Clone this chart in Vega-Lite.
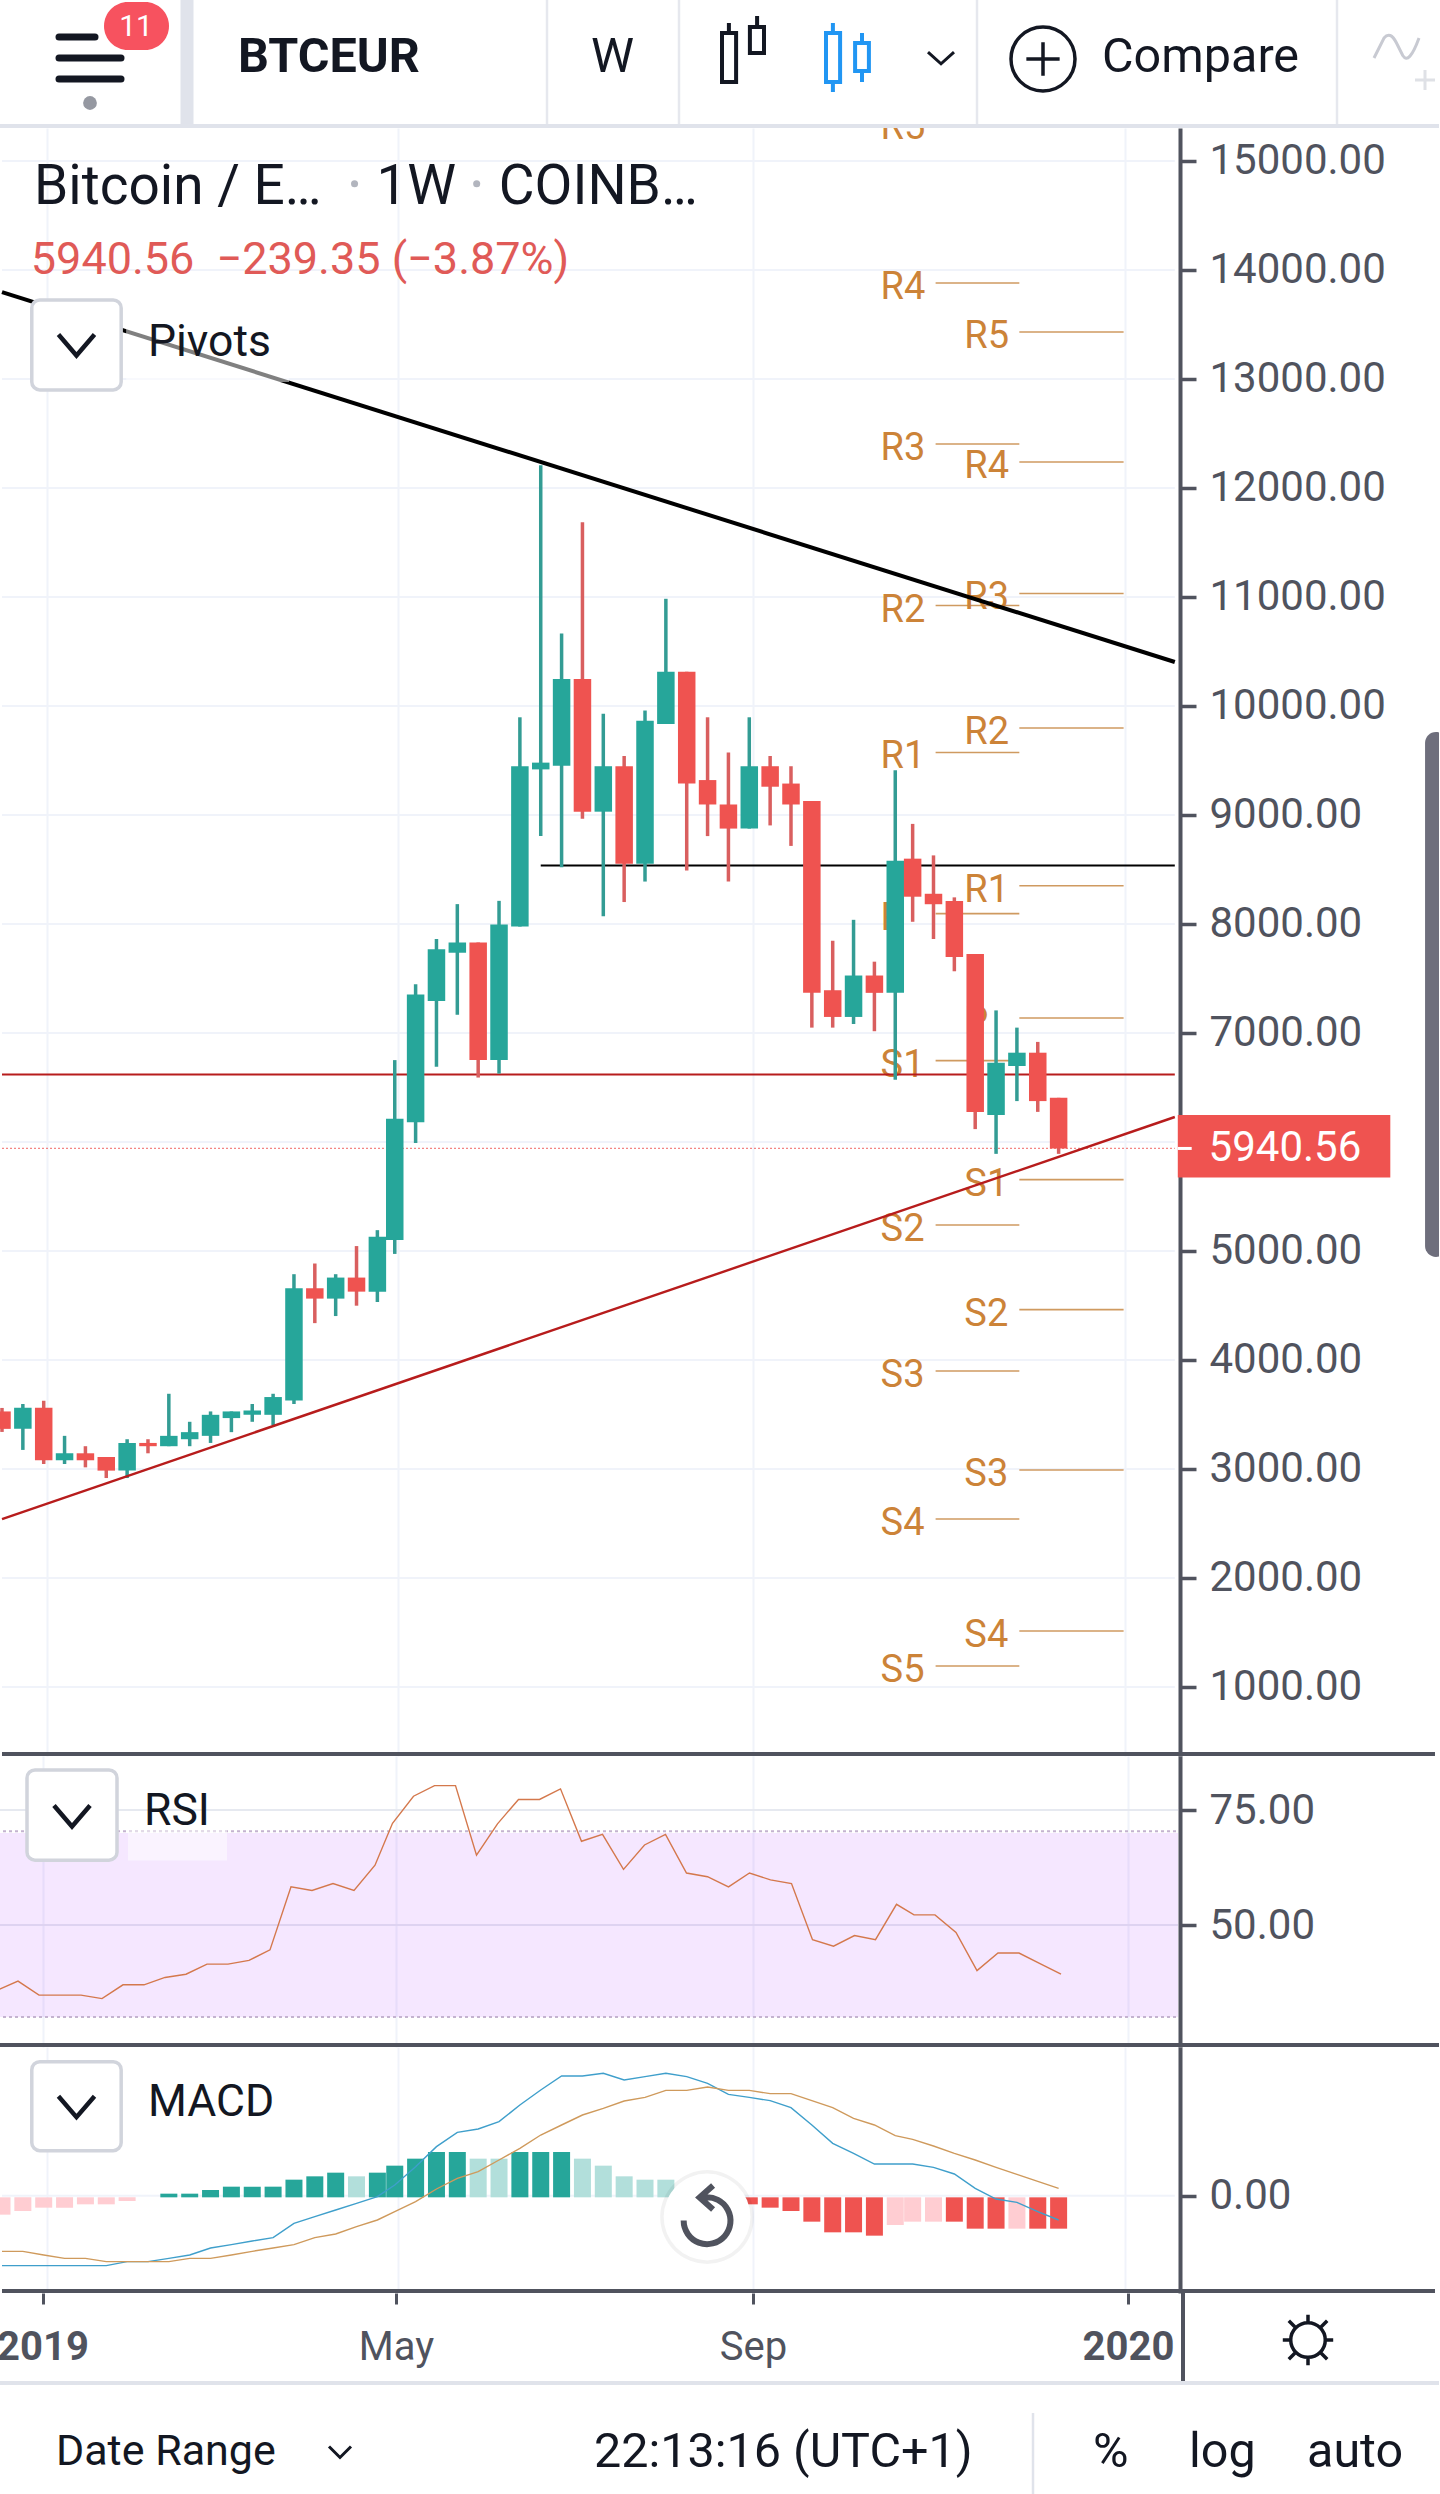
{"$schema":"https://vega.github.io/schema/vega-lite/v6.json","padding":{"left":-4,"top":0,"right":0,"bottom":0},"background":"white","spacing":0,"bounds":"flush","config":{"view":{"stroke":null},"text":{"font":"Roboto"},"concat":{"spacing":0}},
"datasets":{"bars":[
{"t":"2018-12-24T00:00:00","open":3528,"high":3560,"low":3340,"close":3368,"rsi":35.8,"macd":-840,"signal":-668,"hist":-228,"tone":"down-fade"},
{"t":"2018-12-31T00:00:00","open":3368,"high":3596,"low":3175,"close":3562,"rsi":37.8,"macd":-840,"signal":-668,"hist":-184,"tone":"down-fade"},
{"t":"2019-01-07T00:00:00","open":3562,"high":3626,"low":3046,"close":3080,"rsi":34.75,"macd":-840,"signal":-712,"hist":-144,"tone":"down-fade"},
{"t":"2019-01-14T00:00:00","open":3080,"high":3304,"low":3046,"close":3144,"rsi":34.75,"macd":-840,"signal":-752,"hist":-144,"tone":"down-fade"},
{"t":"2019-01-21T00:00:00","open":3144,"high":3209,"low":3015,"close":3080,"rsi":34.75,"macd":-840,"signal":-752,"hist":-104,"tone":"down-fade"},
{"t":"2019-01-28T00:00:00","open":3110,"high":3110,"low":2917,"close":2985,"rsi":34,"macd":-840,"signal":-792,"hist":-104,"tone":"down-fade"},
{"t":"2019-02-04T00:00:00","open":2985,"high":3273,"low":2917,"close":3239,"rsi":37,"macd":-792,"signal":-792,"hist":-64,"tone":"down-fade"},
{"t":"2019-02-11T00:00:00","open":3239,"high":3273,"low":3144,"close":3209,"rsi":37,"macd":-792,"signal":-792,"hist":null,"tone":"up"},
{"t":"2019-02-18T00:00:00","open":3209,"high":3690,"low":3209,"close":3304,"rsi":38.6,"macd":-752,"signal":-792,"hist":24,"tone":"up"},
{"t":"2019-02-25T00:00:00","open":3273,"high":3433,"low":3209,"close":3338,"rsi":39.3,"macd":-712,"signal":-752,"hist":24,"tone":"up"},
{"t":"2019-03-04T00:00:00","open":3304,"high":3528,"low":3239,"close":3497,"rsi":41.5,"macd":-628,"signal":-752,"hist":68,"tone":"up"},
{"t":"2019-03-11T00:00:00","open":3467,"high":3528,"low":3338,"close":3528,"rsi":41.5,"macd":-588,"signal":-712,"hist":108,"tone":"up"},
{"t":"2019-03-18T00:00:00","open":3497,"high":3596,"low":3433,"close":3537,"rsi":42.3,"macd":-544,"signal":-668,"hist":108,"tone":"up"},
{"t":"2019-03-25T00:00:00","open":3497,"high":3690,"low":3402,"close":3660,"rsi":44.6,"macd":-504,"signal":-628,"hist":108,"tone":"up"},
{"t":"2019-04-01T00:00:00","open":3629,"high":4787,"low":3596,"close":4658,"rsi":58.3,"macd":-332,"signal":-588,"hist":192,"tone":"up"},
{"t":"2019-04-08T00:00:00","open":4658,"high":4885,"low":4338,"close":4563,"rsi":57.5,"macd":-252,"signal":-504,"hist":232,"tone":"up"},
{"t":"2019-04-15T00:00:00","open":4563,"high":4787,"low":4403,"close":4756,"rsi":59,"macd":-172,"signal":-460,"hist":276,"tone":"up"},
{"t":"2019-04-22T00:00:00","open":4756,"high":5045,"low":4498,"close":4627,"rsi":57.5,"macd":-92,"signal":-372,"hist":232,"tone":"up-fade"},
{"t":"2019-04-29T00:00:00","open":4627,"high":5191,"low":4532,"close":5130,"rsi":63,"macd":-12,"signal":-292,"hist":276,"tone":"up"},
{"t":"2019-05-04T20:00:00","open":5100,"high":6751,"low":4973,"close":6212,"rsi":72.1,"macd":128,"signal":-192,"hist":360,"tone":"up"},
{"t":"2019-05-11T20:00:00","open":6182,"high":7448,"low":5991,"close":7354,"rsi":78,"macd":348,"signal":-72,"hist":444,"tone":"up"},
{"t":"2019-05-18T20:00:00","open":7294,"high":7863,"low":6691,"close":7769,"rsi":80.3,"macd":588,"signal":80,"hist":524,"tone":"up"},
{"t":"2019-05-25T20:00:00","open":7736,"high":8182,"low":7167,"close":7830,"rsi":80.3,"macd":760,"signal":208,"hist":524,"tone":"up"},
{"t":"2019-06-01T20:00:00","open":7830,"high":7830,"low":6591,"close":6751,"rsi":65.2,"macd":800,"signal":288,"hist":444,"tone":"up-fade"},
{"t":"2019-06-08T20:00:00","open":6751,"high":8212,"low":6627,"close":7994,"rsi":72,"macd":888,"signal":428,"hist":444,"tone":"up-fade"},
{"t":"2019-06-15T20:00:00","open":7976,"high":9896,"low":7976,"close":9447,"rsi":77.3,"macd":1088,"signal":568,"hist":524,"tone":"up"},
{"t":"2019-06-22T20:00:00","open":9418,"high":12208,"low":8806,"close":9480,"rsi":77.3,"macd":1268,"signal":728,"hist":524,"tone":"up"},
{"t":"2019-06-29T20:00:00","open":9451,"high":10664,"low":8520,"close":10248,"rsi":79.6,"macd":1436,"signal":848,"hist":524,"tone":"up"},
{"t":"2019-07-06T20:00:00","open":10248,"high":11685,"low":8965,"close":9030,"rsi":68.2,"macd":1436,"signal":968,"hist":444,"tone":"up-fade"},
{"t":"2019-07-13T20:00:00","open":9030,"high":9929,"low":8070,"close":9447,"rsi":69.7,"macd":1468,"signal":1048,"hist":360,"tone":"up-fade"},
{"t":"2019-07-20T20:00:00","open":9447,"high":9541,"low":8201,"close":8552,"rsi":62.1,"macd":1388,"signal":1136,"hist":232,"tone":"up-fade"},
{"t":"2019-07-27T20:00:00","open":8552,"high":9958,"low":8389,"close":9864,"rsi":67.4,"macd":1428,"signal":1180,"hist":192,"tone":"up-fade"},
{"t":"2019-08-03T20:00:00","open":9835,"high":10983,"low":9835,"close":10313,"rsi":69.7,"macd":1468,"signal":1264,"hist":192,"tone":"up-fade"},
{"t":"2019-08-10T20:00:00","open":10313,"high":10313,"low":8491,"close":9288,"rsi":61.3,"macd":1428,"signal":1264,"hist":108,"tone":"up-fade"},
{"t":"2019-08-17T20:00:00","open":9320,"high":9896,"low":8806,"close":9096,"rsi":60.5,"macd":1348,"signal":1304,"hist":68,"tone":"up-fade"},
{"t":"2019-08-24T20:00:00","open":9096,"high":9574,"low":8389,"close":8875,"rsi":58.3,"macd":1216,"signal":1264,"hist":-64,"tone":"down-fade"},
{"t":"2019-08-31T20:00:00","open":8875,"high":9896,"low":8875,"close":9447,"rsi":61.3,"macd":1180,"signal":1264,"hist":-104,"tone":"down"},
{"t":"2019-09-07T20:00:00","open":9447,"high":9541,"low":8904,"close":9259,"rsi":59.8,"macd":1140,"signal":1224,"hist":-144,"tone":"down"},
{"t":"2019-09-14T20:00:00","open":9288,"high":9447,"low":8716,"close":9096,"rsi":59,"macd":1056,"signal":1224,"hist":-184,"tone":"down"},
{"t":"2019-09-21T20:00:00","open":9128,"high":9128,"low":7049,"close":7368,"rsi":46.8,"macd":848,"signal":1140,"hist":-312,"tone":"down"},
{"t":"2019-09-28T20:00:00","open":7392,"high":7846,"low":7049,"close":7147,"rsi":45.4,"macd":628,"signal":1056,"hist":-440,"tone":"down"},
{"t":"2019-10-05T20:00:00","open":7147,"high":8038,"low":7082,"close":7527,"rsi":47.7,"macd":508,"signal":928,"hist":-440,"tone":"down"},
{"t":"2019-10-12T20:00:00","open":7527,"high":7654,"low":7016,"close":7368,"rsi":46.8,"macd":380,"signal":848,"hist":-480,"tone":"down"},
{"t":"2019-10-19T20:00:00","open":7368,"high":9410,"low":6571,"close":8581,"rsi":54.5,"macd":380,"signal":720,"hist":-352,"tone":"down-fade"},
{"t":"2019-10-25T16:00:00","open":8599,"high":8918,"low":8020,"close":8250,"rsi":52.2,"macd":380,"signal":676,"hist":-312,"tone":"down-fade"},
{"t":"2019-11-01T16:00:00","open":8277,"high":8629,"low":7862,"close":8181,"rsi":52.2,"macd":340,"signal":596,"hist":-312,"tone":"down-fade"},
{"t":"2019-11-08T16:00:00","open":8211,"high":8244,"low":7566,"close":7698,"rsi":48.4,"macd":260,"signal":508,"hist":-312,"tone":"down"},
{"t":"2019-11-15T16:00:00","open":7724,"high":7724,"low":6118,"close":6276,"rsi":40.1,"macd":88,"signal":428,"hist":-396,"tone":"down"},
{"t":"2019-11-22T16:00:00","open":6247,"high":7207,"low":5891,"close":6727,"rsi":43.9,"macd":-40,"signal":340,"hist":-396,"tone":"down"},
{"t":"2019-11-29T16:00:00","open":6697,"high":7049,"low":6375,"close":6819,"rsi":43.9,"macd":-80,"signal":256,"hist":-396,"tone":"down-fade"},
{"t":"2019-12-06T16:00:00","open":6819,"high":6918,"low":6276,"close":6375,"rsi":41.6,"macd":-192,"signal":172,"hist":-396,"tone":"down"},
{"t":"2019-12-13T16:00:00","open":6405,"high":6405,"low":5891,"close":5940.56,"rsi":39.3,"macd":-292,"signal":88,"hist":-396,"tone":"down"}
]},
"vconcat":[
{"width":1440,"height":128,"encoding":{"x":{"field":"col","type":"quantitative","scale":{"domain":[0,1440],"nice":false,"zero":false},"axis":null},"y":{"field":"row","type":"quantitative","scale":{"domain":[128,0],"nice":false,"zero":false},"axis":null}},
"layer":[
{"data":{"values":[{"col":0,"col2":1440,"row":126}]},"mark":{"type":"rule","color":"#e0e3eb","strokeWidth":4,"clip":true},"encoding":{"x2":{"field":"col2"}}},
{"data":{"values":[{"col":188,"row":0,"row2":124}]},"mark":{"type":"rule","color":"#e0e3eb","strokeWidth":13,"clip":true},"encoding":{"y2":{"field":"row2"}}},
{"data":{"values":[{"col":548,"row":0,"row2":124},{"col":680,"row":0,"row2":124},{"col":978,"row":0,"row2":124},{"col":1338,"row":0,"row2":124}]},"mark":{"type":"rule","color":"#e6e8ee","strokeWidth":2.5,"clip":true},"encoding":{"y2":{"field":"row2"}}},
{"data":{"values":[{"col":60,"col2":96,"row":37},{"col":60,"col2":122,"row":58},{"col":60,"col2":122,"row":79}]},"mark":{"type":"rule","color":"#131722","strokeWidth":7,"strokeCap":"round"},"encoding":{"x2":{"field":"col2"}}},
{"data":{"values":[{"col":91,"row":103}]},"mark":{"type":"point","shape":"circle","filled":true,"color":"#9598a1","size":190,"opacity":1}},
{"data":{"values":[{"col":105,"col2":170,"row":2,"row2":50}]},"mark":{"type":"rect","color":"#f7525f","cornerRadius":24},"encoding":{"x2":{"field":"col2"},"y2":{"field":"row2"}}},
{"data":{"values":[{"col":137,"row":27,"note":"11"}]},"mark":{"type":"text","color":"white","fontSize":30,"font":"Roboto","align":"center"},"encoding":{"text":{"field":"note"}}},
{"data":{"values":[{"col":239,"row":57,"note":"BTCEUR"}]},"mark":{"type":"text","color":"#131722","fontSize":48.5,"fontWeight":"bold","font":"Roboto","align":"left"},"encoding":{"text":{"field":"note"}}},
{"data":{"values":[{"col":592,"row":57,"note":"W"},{"col":1103,"row":57,"note":"Compare"}]},"mark":{"type":"text","color":"#131722","fontSize":48.5,"font":"Roboto","align":"left"},"encoding":{"text":{"field":"note"}}},
{"data":{"values":[{"col":744,"row":50}]},"mark":{"type":"point","shape":"M-0.7,-0.57H-0.23V1.07H-0.7ZM-0.47,-0.9V-0.57M0.23,-0.77H0.7V0.1H0.23ZM0.47,-1.13V-0.77","filled":false,"stroke":"#131722","strokeWidth":4,"size":3600,"opacity":1}},
{"data":{"values":[{"col":848,"row":55}]},"mark":{"type":"point","shape":"M-0.7,-0.73H-0.23V0.9H-0.7ZM-0.47,-1.07V-0.73M-0.47,0.9V1.23M0.27,-0.4H0.73V0.53H0.27ZM0.5,-0.73V-0.4M0.5,0.53V0.9","filled":false,"stroke":"#2196f3","strokeWidth":4,"size":3600,"opacity":1}},
{"data":{"values":[{"col":942,"row":58}]},"mark":{"type":"point","shape":"M-1,-0.45L0,0.45L1,-0.45","filled":false,"stroke":"#131722","strokeWidth":3,"size":676,"opacity":1}},
{"data":{"values":[{"col":1044,"row":59}]},"mark":{"type":"point","shape":"M-1,0A1,1 0 1,0 1,0A1,1 0 1,0 -1,0M-0.52,0H0.52M0,-0.52V0.52","filled":false,"stroke":"#131722","strokeWidth":3.5,"size":4096,"opacity":1}},
{"data":{"values":[{"col":1400,"row":48}]},"mark":{"type":"point","shape":"M-1,0.4L-0.6,-0.4Q-0.35,-0.7 -0.1,-0.2L0.15,0.3Q0.4,0.7 0.8,-0.4","filled":false,"stroke":"#c8cad2","strokeWidth":3,"size":2500,"opacity":1,"clip":true}},
{"data":{"values":[{"col":1426,"row":80}]},"mark":{"type":"point","shape":"M-1,0H1M0,-1V1","filled":false,"stroke":"#dfe1e6","strokeWidth":3,"size":400,"opacity":1,"clip":true}}
]},
{"width":1440,"height":1628,"encoding":{"x":{"field":"t","type":"temporal","scale":{"domain":[{"year":2018,"month":12,"date":24},{"year":2020,"month":4,"date":17,"hours":16}],"range":[-2,1440],"nice":false},"axis":{"orient":"bottom","title":null,"grid":true,"gridColor":"#f0f3fa","gridWidth":2,"labels":false,"ticks":false,"domain":false,"values":[{"year":2019,"month":1,"date":8,"hours":4},{"year":2019,"month":5,"date":6},{"year":2019,"month":9,"date":2},{"year":2020,"month":1,"date":5}]}},"y":{"field":"price","type":"quantitative","scale":{"domain":[367,15302],"nice":false,"zero":false},"axis":{"orient":"right","offset":-259,"title":null,"grid":false,"values":[1000,2000,3000,4000,5000,7000,8000,9000,10000,11000,12000,13000,14000,15000],"format":".2f","domainColor":"#50535e","domainWidth":4,"tickColor":"#50535e","tickWidth":3.5,"tickSize":16,"labelColor":"#50535e","labelFontSize":42,"labelFont":"Roboto","labelPadding":13,"labelOverlap":false,"labelBound":false,"labelFlush":false}}},
"layer":[
{"data":{"values":[{"t":"2018-12-24T00:00:00","t2":"2020-01-21T16:00:00","price":1000},{"t":"2018-12-24T00:00:00","t2":"2020-01-21T16:00:00","price":2000},{"t":"2018-12-24T00:00:00","t2":"2020-01-21T16:00:00","price":3000},{"t":"2018-12-24T00:00:00","t2":"2020-01-21T16:00:00","price":4000},{"t":"2018-12-24T00:00:00","t2":"2020-01-21T16:00:00","price":5000},{"t":"2018-12-24T00:00:00","t2":"2020-01-21T16:00:00","price":6000},{"t":"2018-12-24T00:00:00","t2":"2020-01-21T16:00:00","price":7000},{"t":"2018-12-24T00:00:00","t2":"2020-01-21T16:00:00","price":8000},{"t":"2018-12-24T00:00:00","t2":"2020-01-21T16:00:00","price":9000},{"t":"2018-12-24T00:00:00","t2":"2020-01-21T16:00:00","price":10000},{"t":"2018-12-24T00:00:00","t2":"2020-01-21T16:00:00","price":11000},{"t":"2018-12-24T00:00:00","t2":"2020-01-21T16:00:00","price":12000},{"t":"2018-12-24T00:00:00","t2":"2020-01-21T16:00:00","price":13000},{"t":"2018-12-24T00:00:00","t2":"2020-01-21T16:00:00","price":14000},{"t":"2018-12-24T00:00:00","t2":"2020-01-21T16:00:00","price":15000}],"format":{"parse":{"t":"date","t2":"date"}}},"mark":{"type":"rule","color":"#f0f3fa","strokeWidth":2,"clip":true},"encoding":{"x2":{"field":"t2"}}},
{"data":{"values":[
{"t":"2019-11-02T09:00:00","t2":"2019-11-30T11:30:00","price":15348,"label":"R5"},{"t":"2019-11-02T09:00:00","t2":"2019-11-30T11:30:00","price":13880,"label":"R4"},{"t":"2019-11-02T09:00:00","t2":"2019-11-30T11:30:00","price":12403,"label":"R3"},{"t":"2019-11-02T09:00:00","t2":"2019-11-30T11:30:00","price":10921,"label":"R2"},{"t":"2019-11-02T09:00:00","t2":"2019-11-30T11:30:00","price":9573,"label":"R1"},{"t":"2019-11-02T09:00:00","t2":"2019-11-30T11:30:00","price":8095,"label":"P"},{"t":"2019-11-02T09:00:00","t2":"2019-11-30T11:30:00","price":6746,"label":"S1"},{"t":"2019-11-02T09:00:00","t2":"2019-11-30T11:30:00","price":5238,"label":"S2"},{"t":"2019-11-02T09:00:00","t2":"2019-11-30T11:30:00","price":3899,"label":"S3"},{"t":"2019-11-02T09:00:00","t2":"2019-11-30T11:30:00","price":2541,"label":"S4"},{"t":"2019-11-02T09:00:00","t2":"2019-11-30T11:30:00","price":1193,"label":"S5"},
{"t":"2019-11-30T11:30:00","t2":"2020-01-04T11:30:00","price":13431,"label":"R5"},{"t":"2019-11-30T11:30:00","t2":"2020-01-04T11:30:00","price":12238,"label":"R4"},{"t":"2019-11-30T11:30:00","t2":"2020-01-04T11:30:00","price":11032,"label":"R3"},{"t":"2019-11-30T11:30:00","t2":"2020-01-04T11:30:00","price":9798,"label":"R2"},{"t":"2019-11-30T11:30:00","t2":"2020-01-04T11:30:00","price":8351,"label":"R1"},{"t":"2019-11-30T11:30:00","t2":"2020-01-04T11:30:00","price":7137,"label":"P"},{"t":"2019-11-30T11:30:00","t2":"2020-01-04T11:30:00","price":5655,"label":"S1"},{"t":"2019-11-30T11:30:00","t2":"2020-01-04T11:30:00","price":4462,"label":"S2"},{"t":"2019-11-30T11:30:00","t2":"2020-01-04T11:30:00","price":2991,"label":"S3"},{"t":"2019-11-30T11:30:00","t2":"2020-01-04T11:30:00","price":1514,"label":"S4"}],"format":{"parse":{"t":"date","t2":"date"}}},
"layer":[{"mark":{"type":"rule","color":"#cf9a60","strokeWidth":1.6,"clip":true},"encoding":{"x2":{"field":"t2"}}},{"mark":{"type":"text","color":"#cc8338","fontSize":38,"font":"Roboto","align":"left","dx":-55,"dy":5,"clip":true},"encoding":{"text":{"field":"label"}}}]},
{"data":{"values":[{"t":"2019-06-22T20:00:00","t2":"2020-01-21T16:00:00","price":8537}],"format":{"parse":{"t":"date","t2":"date"}}},"mark":{"type":"rule","color":"#000000","strokeWidth":2,"clip":true},"encoding":{"x2":{"field":"t2"}}},
{"data":{"values":[{"t":"2018-12-24T00:00:00","t2":"2020-01-21T16:00:00","price":6620}],"format":{"parse":{"t":"date","t2":"date"}}},"mark":{"type":"rule","color":"#b71c1c","strokeWidth":2,"clip":true},"encoding":{"x2":{"field":"t2"}}},
{"data":{"values":[{"t":"2018-12-24T00:00:00","t2":"2020-01-21T16:00:00","price":5940.56}],"format":{"parse":{"t":"date","t2":"date"}}},"mark":{"type":"rule","color":"#ef5350","strokeWidth":1.3,"strokeDash":[2,2],"opacity":0.7,"clip":true},"encoding":{"x2":{"field":"t2"}}},
{"data":{"name":"bars"},"mark":{"type":"rule","strokeWidth":3.5,"clip":true},"encoding":{"y":{"field":"high","type":"quantitative","scale":{"domain":[367,15302],"nice":false,"zero":false},"axis":{"orient":"right","offset":-259,"title":null,"grid":false,"values":[1000,2000,3000,4000,5000,7000,8000,9000,10000,11000,12000,13000,14000,15000],"format":".2f","domainColor":"#50535e","domainWidth":4,"tickColor":"#50535e","tickWidth":3.5,"tickSize":16,"labelColor":"#50535e","labelFontSize":42,"labelFont":"Roboto","labelPadding":13,"labelOverlap":false,"labelBound":false,"labelFlush":false}},"y2":{"field":"low"},"color":{"condition":{"test":"datum.close>=datum.open","value":"#339c94"},"value":"#d95f5f"}}},
{"data":{"name":"bars"},"mark":{"type":"bar","size":17.5,"clip":true},"encoding":{"y":{"field":"open","type":"quantitative","scale":{"domain":[367,15302],"nice":false,"zero":false},"axis":{"orient":"right","offset":-259,"title":null,"grid":false,"values":[1000,2000,3000,4000,5000,7000,8000,9000,10000,11000,12000,13000,14000,15000],"format":".2f","domainColor":"#50535e","domainWidth":4,"tickColor":"#50535e","tickWidth":3.5,"tickSize":16,"labelColor":"#50535e","labelFontSize":42,"labelFont":"Roboto","labelPadding":13,"labelOverlap":false,"labelBound":false,"labelFlush":false}},"y2":{"field":"close"},"color":{"condition":{"test":"datum.close>=datum.open","value":"#26a69a"},"value":"#ef5350"}}},
{"data":{"values":[{"t":"2018-12-24T00:00:00","t2":"2020-01-21T16:00:00","price":13797,"price2":10403}],"format":{"parse":{"t":"date","t2":"date"}}},"mark":{"type":"rule","color":"#000000","strokeWidth":4,"clip":true},"encoding":{"x2":{"field":"t2"},"y2":{"field":"price2"}}},
{"data":{"values":[{"t":"2018-12-24T00:00:00","t2":"2020-01-21T16:00:00","price":2541,"price2":6229}],"format":{"parse":{"t":"date","t2":"date"}}},"mark":{"type":"rule","color":"#b71c1c","strokeWidth":2.4,"clip":true},"encoding":{"x2":{"field":"t2"},"y2":{"field":"price2"}}},
{"data":{"values":[{"t":"2019-02-03T16:00:00","t2":"2019-03-30T08:00:00","price":13724,"price2":12972}],"format":{"parse":{"t":"date","t2":"date"}}},"mark":{"type":"rect","color":"white","opacity":0.5,"clip":true},"encoding":{"x2":{"field":"t2"},"y2":{"field":"price2"}}},
{"data":{"values":[{"t":"2019-01-03T00:00:00","t2":"2019-02-02T00:00:00","price":13724,"price2":12899}],"format":{"parse":{"t":"date","t2":"date"}}},"mark":{"type":"rect","fill":"white","stroke":"#d1d4dc","strokeWidth":3.5,"cornerRadius":8,"clip":true},"encoding":{"x2":{"field":"t2"},"y2":{"field":"price2"}}},
{"data":{"values":[{"t":"2019-01-18T00:00:00","price":13311}]},"mark":{"type":"point","shape":"M-1,-0.58L0,0.58L1,-0.58","filled":false,"stroke":"#131722","strokeWidth":4.5,"size":1300,"opacity":1,"clip":true}},
{"data":{"values":[{"t":"2019-01-03T18:00:00","price":14761,"note":"Bitcoin / E…"},{"t":"2019-04-28T16:00:00","price":14761,"note":"1W"},{"t":"2019-06-08T18:00:00","price":14761,"note":"COINB…"}]},"mark":{"type":"text","color":"#131722","fontSize":55,"font":"Roboto","align":"left","clip":true},"encoding":{"text":{"field":"note"}}},
{"data":{"values":[{"t":"2019-04-21T08:00:00","price":14790},{"t":"2019-06-01T08:00:00","price":14790}]},"mark":{"type":"point","shape":"circle","filled":true,"color":"#b2b5be","size":50,"opacity":1,"clip":true}},
{"data":{"values":[{"t":"2019-01-02T16:00:00","price":14091,"note":"5940.56"},{"t":"2019-03-06T00:00:00","price":14091,"note":"−239.35 (−3.87%)"}]},"mark":{"type":"text","color":"#e05a57","fontSize":45,"font":"Roboto","align":"left","clip":true},"encoding":{"text":{"field":"note"}}},
{"data":{"values":[{"t":"2019-02-11T00:00:00","price":13330,"note":"Pivots"}]},"mark":{"type":"text","color":"#131722","fontSize":44.5,"font":"Roboto","align":"left","clip":true},"encoding":{"text":{"field":"note"}}},
{"data":{"values":[{"t":"2020-01-22T16:00:00","t2":"2020-04-03T00:00:00","price":6247,"price2":5674}],"format":{"parse":{"t":"date","t2":"date"}}},"mark":{"type":"rect","color":"#ef5350","clip":true},"encoding":{"x2":{"field":"t2"},"y2":{"field":"price2"}}},
{"data":{"values":[{"t":"2020-01-22T16:00:00","t2":"2020-01-27T08:00:00","price":5940.56}],"format":{"parse":{"t":"date","t2":"date"}}},"mark":{"type":"rule","color":"#ffffff","strokeWidth":3,"clip":true},"encoding":{"x2":{"field":"t2"}}},
{"data":{"values":[{"t":"2020-02-02T00:00:00","price":5940.56,"note":"5940.56"}]},"mark":{"type":"text","color":"#ffffff","fontSize":42,"font":"Roboto","align":"left","clip":true},"encoding":{"text":{"field":"note"}}},
{"data":{"values":[{"t":"2020-04-14T16:00:00","t2":"2020-04-22T00:00:00","price":9761,"price2":4945}],"format":{"parse":{"t":"date","t2":"date"}}},"mark":{"type":"rect","color":"#6e6e7c","cornerRadius":12,"clip":true},"encoding":{"x2":{"field":"t2"},"y2":{"field":"price2"}}},
{"data":{"values":[{"t":"2018-12-24T00:00:00","t2":"2020-04-18T00:00:00","price":385}],"format":{"parse":{"t":"date","t2":"date"}}},"mark":{"type":"rule","color":"#50535e","strokeWidth":4,"clip":true},"encoding":{"x2":{"field":"t2"}}}
]},
{"width":1440,"height":291,"encoding":{"x":{"field":"t","type":"temporal","scale":{"domain":[{"year":2018,"month":12,"date":24},{"year":2020,"month":4,"date":17,"hours":16}],"range":[-2,1440],"nice":false},"axis":{"orient":"bottom","title":null,"grid":true,"gridColor":"#f0f3fa","gridWidth":2,"labels":false,"ticks":false,"domain":false,"values":[{"year":2019,"month":1,"date":8,"hours":4},{"year":2019,"month":5,"date":6},{"year":2019,"month":9,"date":2},{"year":2020,"month":1,"date":5}]}},"y":{"field":"rsi","type":"quantitative","scale":{"domain":[23.48,86.74],"nice":false,"zero":false},"axis":{"orient":"right","offset":-259,"title":null,"grid":false,"values":[50,75],"format":".2f","domainColor":"#50535e","domainWidth":4,"tickColor":"#50535e","tickWidth":3.5,"tickSize":16,"labelColor":"#50535e","labelFontSize":42,"labelFont":"Roboto","labelPadding":13,"labelOverlap":false,"labelBound":false,"labelFlush":false}}},
"layer":[
{"data":{"values":[{"t":"2018-12-24T00:00:00","t2":"2020-01-21T16:00:00","rsi":75},{"t":"2018-12-24T00:00:00","t2":"2020-01-21T16:00:00","rsi":50}],"format":{"parse":{"t":"date","t2":"date"}}},"mark":{"type":"rule","color":"#e6e9f0","strokeWidth":2,"clip":true},"encoding":{"x2":{"field":"t2"}}},
{"data":{"values":[{"t":"2018-12-24T00:00:00","t2":"2020-01-21T16:00:00","rsi":70,"rsi2":30}],"format":{"parse":{"t":"date","t2":"date"}}},"mark":{"type":"rect","color":"#9915ff","opacity":0.1,"clip":true},"encoding":{"x2":{"field":"t2"},"y2":{"field":"rsi2"}}},
{"data":{"values":[{"t":"2018-12-24T00:00:00","t2":"2020-01-21T16:00:00","rsi":70.4},{"t":"2018-12-24T00:00:00","t2":"2020-01-21T16:00:00","rsi":30}],"format":{"parse":{"t":"date","t2":"date"}}},"mark":{"type":"rule","color":"#c4b3d0","strokeWidth":2,"strokeDash":[3,3],"clip":true},"encoding":{"x2":{"field":"t2"}}},
{"data":{"values":[{"t":"2019-02-05T16:00:00","t2":"2019-03-10T16:00:00","rsi":70.6,"rsi2":64}],"format":{"parse":{"t":"date","t2":"date"}}},"mark":{"type":"rect","color":"white","opacity":0.5,"clip":true},"encoding":{"x2":{"field":"t2"},"y2":{"field":"rsi2"}}},
{"data":{"name":"bars"},"mark":{"type":"line","color":"#d4784c","strokeWidth":1.4,"clip":true}},
{"data":{"values":[{"t":"2019-01-03T00:00:00","t2":"2019-02-02T00:00:00","rsi":83.7,"rsi2":64.1}],"format":{"parse":{"t":"date","t2":"date"}}},"mark":{"type":"rect","fill":"white","stroke":"#d1d4dc","strokeWidth":3.5,"cornerRadius":8,"clip":true},"encoding":{"x2":{"field":"t2"},"y2":{"field":"rsi2"}}},
{"data":{"values":[{"t":"2019-01-18T00:00:00","rsi":73.7}]},"mark":{"type":"point","shape":"M-1,-0.58L0,0.58L1,-0.58","filled":false,"stroke":"#131722","strokeWidth":4.5,"size":1300,"opacity":1,"clip":true}},
{"data":{"values":[{"t":"2019-02-11T00:00:00","rsi":74.6,"note":"RSI"}]},"mark":{"type":"text","color":"#131722","fontSize":44.5,"font":"Roboto","align":"left","clip":true},"encoding":{"text":{"field":"note"}}},
{"data":{"values":[{"t":"2018-12-24T00:00:00","t2":"2020-04-18T00:00:00","rsi":23.91}],"format":{"parse":{"t":"date","t2":"date"}}},"mark":{"type":"rule","color":"#50535e","strokeWidth":4,"clip":true},"encoding":{"x2":{"field":"t2"}}}
]},
{"width":1440,"height":246,"encoding":{"x":{"field":"t","type":"temporal","scale":{"domain":[{"year":2018,"month":12,"date":24},{"year":2020,"month":4,"date":17,"hours":16}],"range":[-2,1440],"nice":false},"axis":{"orient":"bottom","title":null,"grid":true,"gridColor":"#f0f3fa","gridWidth":2,"labels":false,"ticks":false,"domain":false,"values":[{"year":2019,"month":1,"date":8,"hours":4},{"year":2019,"month":5,"date":6},{"year":2019,"month":9,"date":2},{"year":2020,"month":1,"date":5}]}},"y":{"field":"macd","type":"quantitative","scale":{"domain":[-1168,1784],"nice":false,"zero":false},"axis":{"orient":"right","offset":-259,"title":null,"grid":false,"values":[0],"format":".2f","domainColor":"#50535e","domainWidth":4,"tickColor":"#50535e","tickWidth":3.5,"tickSize":16,"labelColor":"#50535e","labelFontSize":42,"labelFont":"Roboto","labelPadding":13,"labelOverlap":false,"labelBound":false,"labelFlush":false}}},
"layer":[
{"data":{"values":[{"t":"2018-12-24T00:00:00","t2":"2020-01-21T16:00:00","macd":0}],"format":{"parse":{"t":"date","t2":"date"}}},"mark":{"type":"rule","color":"#f0f3fa","strokeWidth":2,"clip":true},"encoding":{"x2":{"field":"t2"}}},
{"data":{"name":"bars"},"mark":{"type":"bar","size":17,"clip":true},"encoding":{"y":{"field":"hist","type":"quantitative","scale":{"domain":[-1168,1784],"nice":false,"zero":false},"axis":{"orient":"right","offset":-259,"title":null,"grid":false,"values":[0],"format":".2f","domainColor":"#50535e","domainWidth":4,"tickColor":"#50535e","tickWidth":3.5,"tickSize":16,"labelColor":"#50535e","labelFontSize":42,"labelFont":"Roboto","labelPadding":13,"labelOverlap":false,"labelBound":false,"labelFlush":false}},"y2":{"datum":-20},"color":{"field":"tone","type":"nominal","scale":{"domain":["up","up-fade","down-fade","down"],"range":["#26a69a","#b2dfdb","#ffcdd2","#ef5350"]},"legend":null}}},
{"data":{"name":"bars"},"mark":{"type":"line","color":"#3f9fcb","strokeWidth":1.4,"clip":true}},
{"data":{"name":"bars"},"mark":{"type":"line","color":"#cf9a5c","strokeWidth":1.4,"clip":true},"encoding":{"y":{"field":"signal","type":"quantitative","scale":{"domain":[-1168,1784],"nice":false,"zero":false},"axis":{"orient":"right","offset":-259,"title":null,"grid":false,"values":[0],"format":".2f","domainColor":"#50535e","domainWidth":4,"tickColor":"#50535e","tickWidth":3.5,"tickSize":16,"labelColor":"#50535e","labelFontSize":42,"labelFont":"Roboto","labelPadding":13,"labelOverlap":false,"labelBound":false,"labelFlush":false}}}},
{"data":{"values":[{"t":"2019-01-03T00:00:00","t2":"2019-02-02T00:00:00","macd":1608,"macd2":540}],"format":{"parse":{"t":"date","t2":"date"}}},"mark":{"type":"rect","fill":"white","stroke":"#d1d4dc","strokeWidth":3.5,"cornerRadius":8,"clip":true},"encoding":{"x2":{"field":"t2"},"y2":{"field":"macd2"}}},
{"data":{"values":[{"t":"2019-01-18T00:00:00","macd":1068}]},"mark":{"type":"point","shape":"M-1,-0.58L0,0.58L1,-0.58","filled":false,"stroke":"#131722","strokeWidth":4.5,"size":1300,"opacity":1,"clip":true}},
{"data":{"values":[{"t":"2019-02-11T00:00:00","macd":1108,"note":"MACD"}]},"mark":{"type":"text","color":"#131722","fontSize":44.5,"font":"Roboto","align":"left","clip":true},"encoding":{"text":{"field":"note"}}},
{"data":{"values":[{"t":"2019-08-17T16:00:00","macd":-256}]},"mark":{"type":"point","shape":"circle","filled":true,"color":"#000000","size":8800,"opacity":0.05,"clip":true}},
{"data":{"values":[{"t":"2019-08-17T16:00:00","macd":-256}]},"mark":{"type":"point","shape":"circle","filled":true,"color":"#ffffff","size":7540,"opacity":1,"clip":true}},
{"data":{"values":[{"t":"2019-08-17T16:00:00","macd":-256}]},"mark":{"type":"point","shape":"M-0.1,-0.65A0.78,0.78 0 1,1 -0.78,0.12M0.2,-1.05L-0.25,-0.65L0.2,-0.25","filled":false,"stroke":"#50535e","strokeWidth":6,"size":3600,"opacity":1,"clip":true}},
{"data":{"values":[{"t":"2018-12-24T00:00:00","t2":"2020-04-18T00:00:00","macd":-1144}],"format":{"parse":{"t":"date","t2":"date"}}},"mark":{"type":"rule","color":"#50535e","strokeWidth":4,"clip":true},"encoding":{"x2":{"field":"t2"}}}
]},
{"width":1440,"height":92,"encoding":{"x":{"field":"t","type":"temporal","scale":{"domain":[{"year":2018,"month":12,"date":24},{"year":2020,"month":4,"date":17,"hours":16}],"range":[-2,1440],"nice":false},"axis":{"orient":"bottom","offset":-92,"title":null,"grid":false,"domain":false,"values":[{"year":2019,"month":1,"date":8,"hours":4},{"year":2019,"month":5,"date":6},{"year":2019,"month":9,"date":2},{"year":2020,"month":1,"date":5}],"labelExpr":"month(datum.value)==0?timeFormat(datum.value,'%Y'):timeFormat(datum.value,'%b')","tickColor":"#50535e","tickWidth":3,"tickSize":11,"labelColor":"#50535e","labelFontSize":40,"labelFont":"Roboto","labelPadding":23,"labelOverlap":false,"labelBound":false,"labelFlush":false,"labelFontWeight":{"condition":{"test":"month(datum.value)==0","value":"bold"},"value":"normal"}}},"y":{"field":"row","type":"quantitative","scale":{"domain":[92,0],"nice":false,"zero":false},"axis":null}},
"layer":[
{"data":{"values":[{"t":"2020-01-23T08:00:00","row":0,"row2":90}]},"mark":{"type":"rule","color":"#50535e","strokeWidth":4,"clip":true},"encoding":{"y2":{"field":"row2"}}},
{"data":{"values":[{"t":"2018-12-24T00:00:00","t2":"2020-04-18T00:00:00","row":90}],"format":{"parse":{"t":"date","t2":"date"}}},"mark":{"type":"rule","color":"#e0e3eb","strokeWidth":4,"clip":true},"encoding":{"x2":{"field":"t2"}}},
{"data":{"values":[{"t":"2020-03-05T00:00:00","row":47}]},"mark":{"type":"point","shape":"M-0.72,0A0.72,0.72 0 1,0 0.72,0A0.72,0.72 0 1,0 -0.72,0M0,-1.05V-0.72M0,1.05V0.72M-1.05,0H-0.72M1.05,0H0.72M-0.8,-0.8L-0.5,-0.5M0.8,-0.8L0.5,-0.5M-0.8,0.8L-0.5,0.5M0.8,0.8L0.5,0.5","filled":false,"stroke":"#131722","strokeWidth":3.5,"size":2304,"opacity":1,"clip":true}}
]},
{"width":1440,"height":109,"encoding":{"x":{"field":"col","type":"quantitative","scale":{"domain":[0,1440],"nice":false,"zero":false},"axis":null},"y":{"field":"row","type":"quantitative","scale":{"domain":[109,0],"nice":false,"zero":false},"axis":null}},
"layer":[
{"data":{"values":[{"col":1034,"row":28,"row2":109}]},"mark":{"type":"rule","color":"#e0e3eb","strokeWidth":2.5,"clip":true},"encoding":{"y2":{"field":"row2"}}},
{"data":{"values":[{"col":57,"row":67,"note":"Date Range"}]},"mark":{"type":"text","color":"#131722","fontSize":43,"font":"Roboto","align":"left"},"encoding":{"text":{"field":"note"}}},
{"data":{"values":[{"col":595,"row":67,"note":"22:13:16 (UTC+1)"},{"col":1094,"row":67,"note":"%"},{"col":1190,"row":67,"note":"log"},{"col":1308,"row":67,"note":"auto"}]},"mark":{"type":"text","color":"#131722","fontSize":48.5,"font":"Roboto","align":"left"},"encoding":{"text":{"field":"note"}}},
{"data":{"values":[{"col":341,"row":67}]},"mark":{"type":"point","shape":"M-1,-0.5L0,0.5L1,-0.5","filled":false,"stroke":"#131722","strokeWidth":3,"size":484,"opacity":1}}
]}
]}
